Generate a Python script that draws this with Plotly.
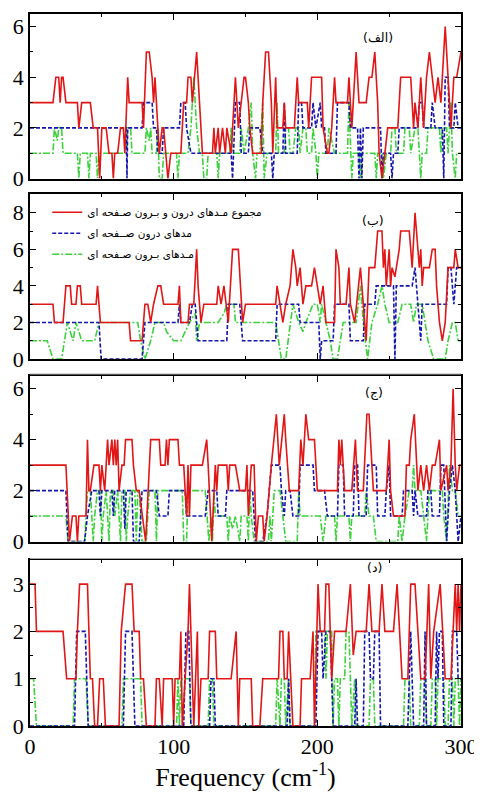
import plotly.graph_objects as go

# ---------------- data: (frequency cm^-1, number of modes) ----------------
# panel (الف)
total_a = [(0,3),(16,3),(18,4),(20,4),(21,3),(22,4),(23,4),(25,3),(33,3),(34,2),(36,3),(42,3),(44,2),(47,2),(48.5,0),(50,2),(53,2),(55,1),(57,1),(58,0),(59,1),(61,1),(63,2),(65,2),(66,1),(68,4),(69,3),(78,3),(79,2),(81,5),(83,5),(85,4),(86,3),(87,4),(88,3),(89,2),(90,1),(92,2),(93,2),(96,0),(98,1),(105,1),(106,2),(107,3),(109,3),(110,4),(112,4),(113,3),(116,5),(117,4),(118,3),(119,2),(120,1),(127,1),(128,2),(129,1),(131,2),(132,1),(134,2),(136,1),(137,2),(140,1),(143,4),(145,2),(147,3),(149,4),(150,4),(152,3),(153,2),(155,1),(161,1),(162,3),(164,5),(166,5),(167,4),(168,3),(169,1),(171,4),(172,2),(176,2),(177,3),(178,2),(184,2),(186,4),(187,3),(193,3),(194,2),(196,4),(203,4),(204,2),(207,1),(208,1),(210,2),(212,4),(213,3),(221,3),(222,4),(224,2),(227,5),(228,4),(229,3),(234,3),(236,4),(238,4),(240,5),(242,3),(243,1),(245,0),(247,1),(249,2),(256,2),(258,4),(265,4),(267,2),(268,3),(270,2),(272,4),(274,2),(276,4),(278,5),(280,4),(282,3),(284,4),(286,3),(289,6),(291,4),(293,2),(295,4),(297,4),(300,5)]
inplane_a = [(0,2),(67,2),(67.5,0),(68,2),(78,2),(79,3),(85,3),(86,2),(88,2),(89,1),(92,1),(93,2),(104,2),(105,3),(108,3),(109,2),(112,1),(140,1),(141,0),(142,2),(143,3),(146,3),(147,1),(152,1),(153,2),(160,2),(162,1),(168,1),(169,0),(170,1),(176,1),(177,3),(178,1),(186,1),(187,3),(189,3),(190,2),(196,2),(197,3),(199,2),(202,3),(203,2),(205,2),(206,1),(213,1),(214,3),(222,3),(223,2),(228,2),(229,0),(230,2),(231,0),(232,2),(244,2),(245,0),(246,1),(251,1),(252,0),(253,1),(256,1),(257,2),(270,2),(271,3),(273,3),(274,2),(279,2),(280,3),(282,2),(287,2),(288,0),(289,4),(291,4),(292,2),(295,2),(296,3),(298,2),(300,2)]
outplane_a = [(0,1),(16,1),(17,2),(19,1.5),(20,2),(22,2),(23,1),(33,1),(34,0),(35,1),(40,1),(41,0),(42,1),(46,1),(47,0),(48,1),(67,1),(68,2),(70,2),(71,1),(80,1),(81,2),(83,1.5),(84,2),(85,1),(88,1),(89,2),(90,0),(92,0),(93,1),(102,1),(103,0),(104,1),(110,1),(112,2),(114,4),(115,3),(116,2),(118,1),(120,1),(121,0),(123,0),(124,1),(130,1),(131,0),(132,1),(139,1),(140,2),(141,1),(146,1),(147,2),(149,1),(152,2),(154,3),(155,1),(157,0),(158,1),(160,1),(162,3),(163,0),(165,1),(171,1),(172,3),(173,1),(177,1),(178,2),(180,2),(181,1),(183,1),(185,2),(187,2),(188,1),(190,2),(192,2),(193,1),(196,1),(197,2),(199,1),(200,0),(201,1),(207,1),(208,2),(212,1),(221,1),(222,3),(223,1),(224,0),(225,1),(229,1),(230,0),(231,1),(240,1),(241,0),(242,1),(245,1),(246,0),(248,1),(251,1),(252,2),(254,2),(255,1),(260,1),(261,2),(264,2),(265,1),(268,2),(270,2),(271,1),(272,0),(273,1),(276,1),(277,2),(285,2),(286,1),(287,2),(290,2),(291,1),(293,3),(294,1),(296,0),(297,1),(300,1)]

# panel (ب)
total_b = [(0,3),(16,3),(17,2),(23,2),(25,4),(28,4),(29,3),(32,3),(33,4),(35,4),(36,3),(46,3),(47,4),(49,2),(69,2),(70,1),(78,1),(80,3),(82,3),(84,2),(86,3),(89,4),(91,4),(93,3),(103,3),(104,4),(105,2),(110,2),(111,3),(114,3),(116,6),(117,4),(119,2),(121,3),(130,3),(131,4),(133,3),(135,4),(138,2),(141,6),(145,6),(148,2),(150,3),(171,3),(172,4),(174,3),(176,2),(178,3),(181,4),(183,6),(185,5),(186,4),(188,5),(190,3),(192,4),(196,4),(198,5),(200,4),(202,3),(204,4),(205,3),(206,2),(212,2),(213,6),(215,5),(216,3),(220,3),(222,5),(223,3),(226,2),(230,5),(232,3),(234,1),(236,5),(240,5),(242,7),(245,7),(246,5),(247,6),(248,4),(250,6),(251,4),(252,5),(254,4.5),(255,5),(257,6),(258,7),(264,7),(265,6),(266,5),(268,8),(270,6),(271,5),(272,6),(273,4),(274,5),(278,5),(280,6),(282,6),(283,4),(285,2),(287,1),(289,2),(291,5),(295,5),(296,6),(298,5),(300,5)]
inplane_b = [(0,2),(48,2),(49.5,0),(78,0),(79,1),(80,2),(103,2),(104,3),(105,2),(111,2),(113,3),(115,3),(117,1),(137,1),(138,3),(146,3),(148,1),(171,1),(172,3),(187,3),(188,2),(201,2),(202,0),(203,1),(211,1),(212,3),(222,3),(223,1),(232,1),(233,3),(240,3),(241,4),(253,4),(254,0),(255,4),(266,4),(268,5),(270,3),(272,1),(273,3),(290,3),(291,5),(293,5),(295,3),(297,5),(300,5)]
outplane_b = [(0,1),(12,1),(16,0),(22,0),(26,2),(30,1),(32,2),(34,1.5),(36,1),(45,1),(48,2),(75,2),(77,1),(80,0),(84,1),(87,2),(93,2),(95,1.5),(100,1),(105,1),(111,2),(115,2.5),(116,1),(118,2),(131,2),(135,2.5),(137,3),(142,3),(143,2),(150,2),(171,2),(173,1),(175,0),(178,0),(181,2),(183,3),(187,2),(190,1.5),(192,2),(197,3),(200,3),(202,2),(203,3),(206,2),(209,1),(211,0),(214,0),(218,2),(227,2),(230,4),(232,2),(235,0),(238,2),(242,3),(245,4),(247,3),(250,2),(256,2),(259,3),(265,3),(267,2),(269,3),(273,3),(277,1),(281,0),(289,0),(291,1),(294,2),(296,2),(298,1),(300,1)]

# panel (ج)
total_c = [(0,3),(25,3),(27.5,0),(29.5,1),(32,1),(33,0),(34,1),(39,1),(40,4),(41,2),(42,2),(44.5,3),(48,3),(49,2),(50,3),(52,2),(54,4),(55,3),(57,4),(58,3),(59,4),(60,3),(61,4),(62,2),(64,3),(65.5,3),(66.5,4),(71,4),(72,3),(74,2),(76,2),(78,1),(80.5,0),(84,4),(90,4),(91,3),(94,3),(95,4),(96,3),(97,4),(103,4),(104,3),(107,3),(109,1),(110,3),(111,1),(112,3),(120,3),(123,4),(124,3),(126.5,0),(129,3),(130,2),(131,3),(137,3),(138,2),(139,3),(143,3),(146,2),(150,2),(151,3),(152,1),(154,3),(156,3),(157.5,0),(159,1),(162,1),(163,0),(165,1),(168,3),(170,4),(171.5,5),(173.5,3),(175,4),(177,5),(178,4),(180.5,2),(187,2),(188.5,4),(190,3),(192,5),(194,4),(198,4),(199,3),(200,2),(214,2),(215,4),(216,3),(217,4),(219,2),(224,2),(226.5,4),(228,2),(232,2),(234.5,5),(236,5),(237,4),(238,3),(239,2),(248,2),(250,4),(251,2),(253,1),(261,1),(262,3),(264,3),(265,4),(267.5,5),(269,3),(270,2),(272,3),(274,2),(276,3),(278,2),(280,3),(282,3),(285,4),(286,2),(290,3),(291,2),(293,3),(294.5,6),(296,3),(297,2),(299,3),(300,3)]
inplane_c = [(0,2),(25,2),(26.5,0),(38,0),(40,1),(43,2),(48,2),(49,1),(50,2),(57,2),(58,1),(59,2),(65,2),(66,0.5),(67,2),(71,2),(72,0),(76,0),(78,2),(88,2),(90,1),(96,1),(97,2),(108,2),(109,1),(122,1),(124,2),(130,2),(131,1),(136,1),(137,2),(155,2),(157,0),(162,0),(165,1),(168,3),(174,3),(175,2),(177,1),(178,2),(181,2),(183,1),(187,1),(188,3),(197,3),(198,2),(205,2),(207,1),(214,1),(215,3),(218,3),(219,1),(225,1),(226,3),(228,3),(229,1),(234,1),(235,3),(241,3),(242,1),(247,1),(248,2),(250,3),(251,1),(259,1),(260,2),(266,2),(267,1),(268,2),(270,1),(276,1),(277,2),(279,2),(280,1),(285,1),(286,3),(288,3),(290,0),(292,2),(294,3),(296,2),(298,0),(300,1)]
outplane_c = [(0,1),(25,1),(26.5,0),(38,0),(40,2),(42,2),(43,1),(44,0),(45,1),(47,2),(49,2),(50,0),(51,1),(53,2),(55,0),(56,2),(58,2),(59,1),(61,2),(63,0),(64,2),(66,2),(67,0),(68,1),(70,2),(73,2),(74,0),(75,2),(76,2),(78,0),(81,0),(83,2),(87,2),(88,0),(89,2),(106,2),(107,0),(109,0),(110,2),(122,2),(124.5,0),(126,1),(127,0),(128,2),(129,1),(137,1),(138,0),(139,1),(141,0.5),(143,1),(146,0),(147,1),(151,1),(152,0),(153,2),(154,1),(156,0),(166,0),(167,1),(168,0),(170,2),(174,2),(176,1),(178,0),(186,0),(187,2),(188,1),(198,1),(202,1),(204,0),(206,1),(212,1),(213,0),(214,1),(222,1),(223,0),(224,1),(233,1),(234,2),(236,1),(239,1),(241,0),(256,0),(257,1),(259,0),(261,1),(264,2),(266,2),(267,3),(268,2),(272,2),(274,1),(276,0),(278,2),(287,2),(288,1),(290,0),(292,3),(294,2),(296,2),(298,1),(300,1)]

# panel (د)
total_d = [(0,3),(3.5,3),(4.5,2),(23,2),(25.5,1),(32,1),(33,2),(34.5,3),(40,3),(41,2),(42,1),(43.5,1),(45,0),(47,0),(48.5,1),(51,1),(52.5,0),(62,0),(63.5,2),(66.5,3),(71,3),(72.5,2),(76,2),(77,1),(79,1),(81,0),(87,0),(88,1),(90,1),(92,0),(93,1),(99,1),(100,0),(101,1),(104,1),(105,2),(106,0),(108,1),(110,2),(111,3),(112,2),(114,0),(116.5,2),(117.5,0),(119,1),(124,1),(125,2),(129,2),(130,1),(140,1),(143.5,2),(145,0),(146,1),(154,1),(155,0),(160,0),(162,1),(173,1),(174,2),(176,2),(177,1),(179,1),(180,2),(183,0),(188,0),(189,1),(195,1),(197,2),(198,0),(199,1),(200.5,3),(202,2),(205,2),(206,3),(208,3),(209,2),(210,1),(212,2),(220,2),(223,3),(224,2),(225,1.5),(227,2),(234,2),(236,3),(238,2),(243,2),(245,3),(247,2),(253,2),(255.5,3),(257,2),(259,1),(263,1),(265,3),(268,3),(270,2),(272,1),(275,1),(277.5,3),(279,1),(281,2),(285.5,3),(287,2),(289,1),(293,1),(296,3),(297,2),(298,3),(299,2),(300,3)]
inplane_d = [(0,0),(31,0),(32.5,2),(38.5,2),(40.5,0),(65,0),(66.5,2),(71,2),(72,1),(73,0),(107,0),(108.5,2),(110.5,2),(112,0),(125,0),(126,1),(128,1),(129,0),(179,0),(180,1),(181,0),(199,0),(200.5,2),(203,2),(204,1),(206,2),(209,2),(210,1),(211,0),(226,0),(227,1),(228,0),(232,0),(233,2),(236,2),(237,1),(239,1),(240,2),(243,2),(244,0),(263,0),(264,1),(265,2),(266,1),(267,0),(274,0),(275,2),(276,0),(282,0),(283,2),(284,1),(285,2),(287,2),(288,0),(293,0),(294,2),(297,2),(298,1),(300,1)]
outplane_d = [(0,1),(2.5,1),(4.5,0),(30,0),(31,1),(39,1),(40.5,0),(64,0),(65,1),(77,1),(78,0),(102,0),(103,1),(104,0),(105,1),(111,1),(112,0),(124,0),(125,1),(127,1),(128,0),(171,0),(172,1),(174,0),(175,1),(177,1),(178,0),(180,1),(181,0),(198,0),(199,2),(205,2),(206,1),(207,2),(210,2),(211,0),(212,1),(214,1),(215,0),(216,1),(219,1),(220,2),(222,2),(223,1),(224,0),(226,1),(227,0),(236,0),(237,1),(239,1),(240,0),(260,0),(261,1),(264,1),(265,0),(271,0),(272,1),(275,1),(276,0),(279,0),(280,1),(282,1),(283,0),(284,1),(288,1),(289,0),(291,0),(292,1),(294,1),(295,0),(296,1),(298,1),(299,0),(300,1)]

panel_labels = ["(الف)", "(ب)", "(ج)", "(د)"]
series_names = ["مجموع مـدهای درون و بـرون صـفحه ای", "مدهای درون صــفحه ای", "مـدهای بـرون صـفحه ای"]
y_max = [6.5, 9, 6.5, 3.5]
y_ticks = [[0, 2, 4, 6], [0, 2, 4, 6, 8], [0, 2, 4, 6], [0, 1, 2, 3]]
x_ticks = [0, 100, 200, 300]
x_title = "Frequency (cm<sup>-1</sup>)"

panels = [
    (total_a, inplane_a, outplane_a),
    (total_b, inplane_b, outplane_b),
    (total_c, inplane_c, outplane_c),
    (total_d, inplane_d, outplane_d),
]

# ---------------- styling ----------------
RED = "rgb(225,22,22)"
BLUE = "rgb(22,22,175)"
GREEN = "rgb(60,210,60)"
SERIF = "Liberation Serif"
ARABIC = "DejaVu Sans"

domains = [(0.7689, 1.0), (0.5154, 0.7465), (0.2591, 0.4916), (0.0, 0.2325)]

fig = go.Figure()

def unzip(pts):
    return [p[0] for p in pts], [p[1] for p in pts]

styles = [
    dict(color=RED, width=1.6, dash="solid"),
    dict(color=BLUE, width=1.6, dash="4px,2px"),
    dict(color=GREEN, width=1.6, dash="7px,2px,2px,2px"),
]

for i, series in enumerate(panels):
    ax = "" if i == 0 else str(i + 1)
    # draw green, blue, red (red on top); legend ranks keep red first
    for k in [2, 1, 0]:
        xs, ys = unzip(series[k])
        fig.add_trace(go.Scatter(
            x=xs, y=ys, mode="lines", line=styles[k],
            name=series_names[k], showlegend=(i == 1),
            legendgroup="g%d" % k, legendrank=k + 1,
            xaxis="x" + ax, yaxis="y" + ax, hoverinfo="skip",
        ))

# page body has an 8px margin, so the figure is sized to sit inside the 482x796 window
layout = dict(
    width=474, height=788,
    margin=dict(l=22, r=19, t=4, b=70),
    paper_bgcolor="white", plot_bgcolor="white",
    showlegend=True,
    legend=dict(
        x=0.04, y=0.742, xanchor="left", yanchor="top",
        traceorder="grouped", bgcolor="rgba(0,0,0,0)",
        font=dict(family=ARABIC, size=10.5, color="black"),
        itemwidth=30, tracegroupgap=2,
    ),
)

for i in range(4):
    ax = "" if i == 0 else str(i + 1)
    layout["xaxis" + ax] = dict(
        domain=[0, 1], anchor="y" + ax, range=[0, 300],
        tickvals=x_ticks, showticklabels=(i == 3),
        ticks="inside", ticklen=6, tickwidth=1, tickcolor="black",
        minor=dict(ticks="inside", ticklen=3, dtick=50, tickcolor="black"),
        showline=True, linecolor="black", linewidth=1.5, mirror="ticks",
        showgrid=False, zeroline=False,
        tickfont=dict(family=SERIF, size=22, color="black"),
        title=dict(text=x_title, font=dict(family=SERIF, size=26, color="black"), standoff=8) if i == 3 else None,
    )
    layout["yaxis" + ax] = dict(
        domain=list(domains[i]), anchor="x" + ax, range=[0, y_max[i]],
        tickvals=y_ticks[i],
        ticks="inside", ticklen=6, tickwidth=1, tickcolor="black",
        minor=dict(ticks="inside", ticklen=3, dtick=(0.5 if i == 3 else 1), tickcolor="black"),
        showline=True, linecolor="black", linewidth=1.5, mirror="ticks",
        showgrid=False, zeroline=False,
        tickfont=dict(family=SERIF, size=22, color="black"),
    )

fig.update_layout(**layout)

# faint separator lines just above panels (ج) and (د)
for yy in [0.4944, 0.2353]:
    fig.add_shape(type="line", xref="paper", yref="paper", x0=0, x1=1, y0=yy, y1=yy,
                  line=dict(color="rgb(175,175,175)", width=1))

label_pos = [(0.847, 0.98), (0.827, 0.7227), (0.8245, 0.4678), (0.822, 0.2087)]
for i, (lx, ly) in enumerate(label_pos):
    fig.add_annotation(
        text=panel_labels[i], x=lx, y=ly, xref="paper", yref="paper",
        showarrow=False, font=dict(family=ARABIC, size=12.5, color="black"),
    )

fig.write_html("out.html")
